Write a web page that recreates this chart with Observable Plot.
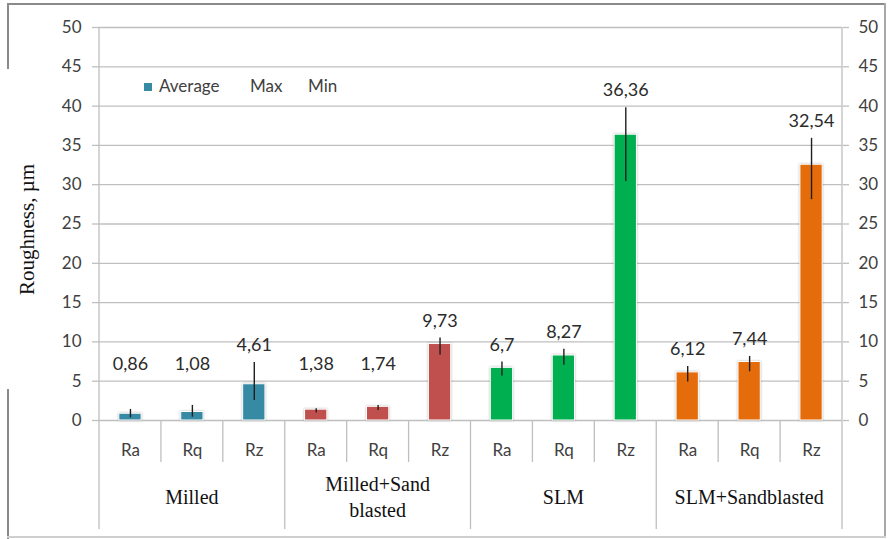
<!DOCTYPE html>
<html>
<head>
<meta charset="utf-8">
<script src="https://cdn.jsdelivr.net/npm/d3@7"></script>
<script src="https://cdn.jsdelivr.net/npm/@observablehq/plot@0.6"></script>
<style>
  html, body { margin: 0; padding: 0; background: #fff; }
  #wrap { position: relative; width: 891px; height: 539px; overflow: hidden; font-family: Lato, sans-serif; }
  #wrap > svg { position: absolute; left: 0; top: 0; }
  .edge { position: absolute; }
  #legend { position: absolute; left: 0; top: 76px; height: 20px; width: 400px; font: 17px Lato, sans-serif; color: #404040; line-height: 20px; }
  #legend span { position: absolute; top: 0; white-space: nowrap; }
  #legend .swatch { top: 7px; width: 8px; height: 8px; }
</style>
</head>
<body>
<div id="wrap"></div>
<script>
// Surface finish groups (line breaks mark how the labels wrap) and roughness parameters
const groups = ["Milled", "Milled+Sand\nblasted", "SLM", "SLM+Sandblasted"];
const params = ["Ra", "Rq", "Rz"];

// Roughness, µm — in order Milled Ra, Rq, Rz, Milled+Sand blasted Ra, Rq, Rz, ...
const average = [0.86, 1.08, 4.61, 1.38, 1.74, 9.73, 6.7, 8.27, 36.36, 6.12, 7.44, 32.54];
const maxima  = [1.41, 1.92, 7.37, 1.5, 1.92, 10.5, 7.45, 9.07, 39.8, 6.87, 8.15, 35.9];
const minima  = [0.33, 0.42, 2.56, 0.95, 1.28, 8.3, 5.67, 7.03, 30.4, 4.9, 6.2, 28.1];

const groupColors = ["#378aa4", "#c0504d", "#00b050", "#e46c0a"];
const yTicks = [0, 5, 10, 15, 20, 25, 30, 35, 40, 45, 50];
const legendItems = ["Average", "Max", "Min"];

const rows = average.map((v, i) => {
  const group = groups[Math.floor(i / 3)];
  const param = params[i % 3];
  return { key: group + "|" + param, group, param, avg: v, max: maxima[i], min: minima[i] };
});

const fmt = v => String(v).replace(".", ",");
const gridColor = "#bfbfbf";

const chart = Plot.plot({
  width: 891,
  height: 539,
  marginLeft: 99,
  marginRight: 49,
  marginTop: 27,
  marginBottom: 119,
  style: { fontFamily: "Lato, sans-serif", fontSize: "17px", color: "#404040", background: "transparent", overflow: "visible" },
  x: { domain: rows.map(d => d.key), paddingInner: 0.64, paddingOuter: 0.32, round: false, axis: null },
  y: { domain: [0, 50], axis: null },
  color: { domain: groups, range: groupColors },
  marks: [
    Plot.gridY(yTicks, { stroke: gridColor, strokeOpacity: 1, strokeWidth: 1.3 }),
    Plot.axisY(yTicks, { anchor: "left", tickSize: 7, tickPadding: 11, stroke: gridColor, strokeWidth: 1.3, fill: "#404040", fontSize: 17, label: null }),
    Plot.axisY(yTicks, { anchor: "right", tickSize: 6, tickPadding: 10, stroke: gridColor, strokeWidth: 1.3, fill: "#404040", fontSize: 17, label: null }),
    Plot.axisX({ anchor: "bottom", tickSize: 0, tickPadding: 23, tickFormat: d => d.split("|")[1], fill: "#404040", fontSize: 17, label: null }),
    Plot.barY(rows, { x: "key", y: "avg", fill: "group", stroke: "white", strokeWidth: 1 }),
    Plot.ruleX(rows, { x: "key", y1: "min", y2: "max", stroke: "#1f1f1f", strokeWidth: 1.4 }),
    Plot.text(rows, { x: "key", y: d => Math.max(d.max, 5), text: d => fmt(d.avg), dy: -17, fontSize: 18, fill: "#2b2b2b" })
  ]
});

const wrap = document.getElementById("wrap");
wrap.appendChild(chart);

// Soft halo around the bars
d3.select(chart).selectAll('g[aria-label="bar"]').style("filter", "drop-shadow(0 0 1px rgba(0,0,0,0.28))");

// Category table below the bars: separators and group names, placed with the chart's own scales
const xs = chart.scale("x");
const ys = chart.scale("y");
const keys = rows.map(d => d.key);
const step = xs.step ?? (xs.range[1] - xs.range[0]) / keys.length;
const bw = xs.bandwidth;
const edge = i => i < keys.length ? xs.apply(keys[i]) + bw / 2 - step / 2 : xs.apply(keys[keys.length - 1]) + bw / 2 + step / 2;
const y0 = ys.apply(0), yTop = ys.apply(50);
const tableBottom = 529, subBottom = 462;

const svg = d3.select(chart);
const table = svg.append("g").attr("stroke", gridColor).attr("stroke-width", 1.3);
for (let i = 0; i <= keys.length; i++) {
  const x = edge(i);
  const outer = i === 0 || i === keys.length;
  table.append("line")
    .attr("x1", x).attr("x2", x)
    .attr("y1", outer ? yTop : y0)
    .attr("y2", i % 3 === 0 ? tableBottom : subBottom);
}

groups.forEach((g, gi) => {
  const cx = (edge(gi * 3) + edge(gi * 3 + 3)) / 2;
  const lines = g.split("\n");
  const t = svg.append("text")
    .attr("text-anchor", "middle")
    .attr("font-family", "'Liberation Serif', 'Times New Roman', serif")
    .attr("font-size", 20)
    .attr("fill", "#111");
  lines.forEach((ln, j) => {
    t.append("tspan").attr("x", cx).attr("y", 504 + (j - (lines.length - 1) / 2) * 26).text(ln);
  });
});

svg.append("text")
  .attr("transform", `translate(34,${(y0 + yTop) / 2 + 6}) rotate(-90)`)
  .attr("text-anchor", "middle")
  .attr("font-family", "'Liberation Serif', 'Times New Roman', serif")
  .attr("font-size", 21)
  .attr("fill", "#111")
  .text("Roughness, µm");

// Legend inside the plot area
const legend = document.createElement("div");
legend.id = "legend";
const sw = document.createElement("span");
sw.className = "swatch";
sw.style.left = "144px";
sw.style.background = groupColors[0];
legend.appendChild(sw);
[159, 250, 308].forEach((left, i) => {
  const s = document.createElement("span");
  s.style.left = left + "px";
  s.textContent = legendItems[i];
  legend.appendChild(s);
});
wrap.appendChild(legend);

// Outer border of the chart area
[
  { left: 7, top: 3, width: 878, height: 2, color: "#8a8a8a" },
  { left: 7, top: 3, width: 2, height: 66, color: "#8a8a8a" },
  { left: 7, top: 389, width: 2, height: 150, color: "#8a8a8a" },
  { left: 884, top: 3, width: 2, height: 534, color: "#a8a8a8" },
  { left: 7, top: 536, width: 879, height: 2, color: "#cfcfcf" }
].forEach(b => {
  const d = document.createElement("div");
  d.className = "edge";
  Object.assign(d.style, { left: b.left + "px", top: b.top + "px", width: b.width + "px", height: b.height + "px", background: b.color });
  wrap.appendChild(d);
});
</script>
</body>
</html>
